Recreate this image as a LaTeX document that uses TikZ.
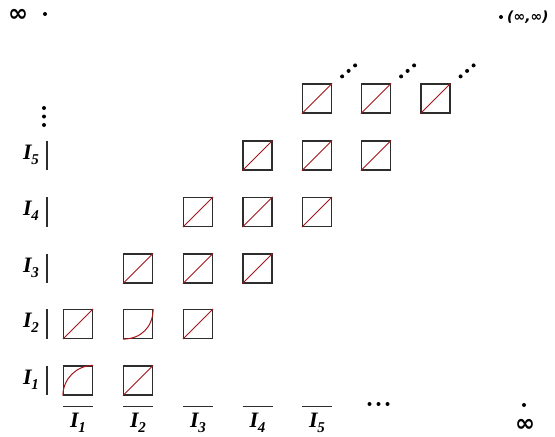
\documentclass[tikz,border=0pt]{standalone}
\usepackage{amsmath}
\usepackage{fontspec}
\setmainfont{Liberation Serif}
\newfontfamily\djv{DejaVu Sans}
\usetikzlibrary{calc}
\definecolor{dred}{RGB}{165,20,25}
\definecolor{boxgray}{RGB}{45,45,45}
\newcommand{\Ilab}[1]{I\kern-0.5pt\raisebox{-5pt}{\fontsize{15}{15}\selectfont #1}}
\begin{document}
\begin{tikzpicture}[x=1pt,y=-1pt,
  cell/.style={draw=boxgray, line width=1.2pt, minimum size=29pt, inner sep=0pt},
  diag/.style={draw=dred, line width=1pt},
  lab/.style={font=\fontsize{22}{26}\selectfont\bfseries\itshape, inner sep=0pt},
  dotm/.style={circle, fill=black, inner sep=0pt, minimum size=4pt},
  bar/.style={line width=1.2pt, draw=boxgray},
  inf/.style={font=\fontsize{24}{26}\selectfont\djv\bfseries, inner sep=0pt}]
\useasboundingbox (0,0) rectangle (555,437);
% column and row positions
\def\cA{78}\def\cB{138}\def\cC{198}\def\cD{257.5}\def\cE{317}\def\cF{376}\def\cG{435.5}
\def\rA{380.5}\def\rB{324}\def\rC{268.5}\def\rD{212}\def\rE{155.5}\def\rF{98.5}
% boxes
\foreach \n/\x/\y in {12/\cB/\rA, 21/\cA/\rB, 23/\cC/\rB,
  32/\cB/\rC, 33/\cC/\rC, 34/\cD/\rC,
  43/\cC/\rD, 44/\cD/\rD, 45/\cE/\rD,
  54/\cD/\rE, 55/\cE/\rE, 56/\cF/\rE,
  65/\cE/\rF, 66/\cF/\rF, 67/\cG/\rF}{
  \node[cell] (b\n) at (\x,\y) {};
  \draw[diag] (b\n.south west) -- (b\n.north east);
}
\node[cell] (b11) at (\cA,\rA) {};
\draw[diag] (b11.south west) .. controls ($(b11.south west)!0.55!(b11.north west)$) and ($(b11.north east)!0.55!(b11.north west)$) .. (b11.north east);
\node[cell] (b22) at (\cB,\rB) {};
\draw[diag] (b22.south west) .. controls ($(b22.south west)!0.6!(b22.south east)$) and ($(b22.north east)!0.6!(b22.south east)$) .. (b22.north east);
% diagonal dots above top row
\foreach \n in {65,66,67}{
  \node[dotm] (d\n a) at ($(b\n.north east)+(10,-7)$) {};
  \node[dotm] (d\n b) at ($(b\n.north east)+(16.5,-12.5)$) {};
  \node[dotm] (d\n c) at ($(b\n.north east)+(23,-18)$) {};
}
% left labels with bars
\foreach \i/\y in {1/\rA,2/\rB,3/\rC,4/\rD,5/\rE}{
  \node[lab] (L\i) at (31,\y-1) {\Ilab{\i}};
  \draw[bar] (47,\y-15) -- (47,\y+14.5);
}
% bottom labels with bars
\foreach \i/\x in {1/\cA,2/\cB,3/\cC,4/\cD,5/\cE}{
  \node[lab] (B\i) at (\x,423) {\Ilab{\i}};
  \draw[bar] (\x-15,406.5) -- (\x+15,406.5);
}
% left vertical dots
\node[dotm] (v1) at (44,108) {};
\node[dotm] (v2) at (44,116.5) {};
\node[dotm] (v3) at (44,125) {};
% bottom horizontal dots
\node[dotm] (h1) at (369.5,404) {};
\node[dotm] (h2) at (378.5,404) {};
\node[dotm] (h3) at (387.5,404) {};
% infinities
\node[inf] (infL) at (18,15) {∞};
\node[dotm] (infLd) at (45,14) {};
\node[inf] (infB) at (525,425.5) {∞};
\node[dotm] (infBd) at (524,405) {};
\node[dotm] (infTd) at (501,17) {};
\node[anchor=west, inner sep=0pt, font=\fontsize{14}{16}\selectfont\djv\bfseries\itshape] (infT) at (507,17) {(∞,∞)};
\end{tikzpicture}
\end{document}
